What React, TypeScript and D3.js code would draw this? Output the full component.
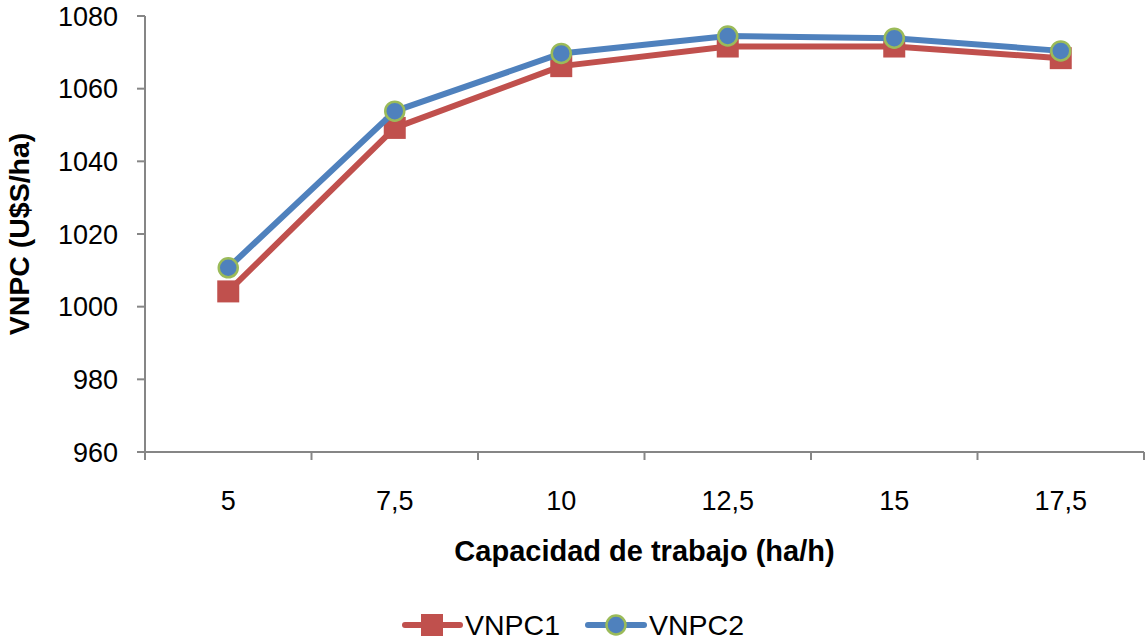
import React from 'react';
import * as d3 from 'd3';

const categories = ['5', '7,5', '10', '12,5', '15', '17,5'];
const vnpc1 = [1004.2, 1049.2, 1066.2, 1071.6, 1071.6, 1068.4];
const vnpc2 = [1010.7, 1053.8, 1069.7, 1074.5, 1073.9, 1070.4];
const yTicks = [960, 980, 1000, 1020, 1040, 1060, 1080];

const W = 1148;
const H = 640;
const FONT = '"Liberation Sans", Arial, sans-serif';
const RED = '#C0504D';
const BLUE = '#4F81BD';
const GREEN = '#9BBB59';
const AXIS = '#868686';

const App = () => {
  const x = d3.scaleBand<string>().domain(categories).range([145, 1144]).padding(0);
  const y = d3.scaleLinear().domain([960, 1080]).range([452, 16]);
  const cx = (c: string) => (x(c) ?? 0) + x.bandwidth() / 2;

  const line = d3
    .line<[string, number]>()
    .x((d) => cx(d[0]))
    .y((d) => y(d[1]));

  const pts1 = categories.map((c, i) => [c, vnpc1[i]] as [string, number]);
  const pts2 = categories.map((c, i) => [c, vnpc2[i]] as [string, number]);

  const [x0, x1] = x.range();
  const edges = [...categories.map((c) => x(c) ?? 0), x1];

  return (
    <svg width={W} height={H} style={{ position: 'absolute', left: 0, top: 0, background: '#fff' }} fontFamily={FONT}>
      {/* y axis */}
      <line x1={x0} x2={x0} y1={y(1080)} y2={y(960)} stroke={AXIS} strokeWidth={2} />
      {yTicks.map((t) => (
        <g key={t}>
          <line x1={x0 - 8} x2={x0} y1={y(t)} y2={y(t)} stroke={AXIS} strokeWidth={2} />
          <text x={118} y={y(t)} dy="0.36em" textAnchor="end" fontSize={27} fill="#000">
            {t}
          </text>
        </g>
      ))}
      {/* x axis */}
      <line x1={x0 - 8} x2={x1} y1={y(960)} y2={y(960)} stroke={AXIS} strokeWidth={2} />
      {edges.map((e, i) => (
        <line key={i} x1={e} x2={e} y1={y(960)} y2={y(960) + 8} stroke={AXIS} strokeWidth={2} />
      ))}
      {categories.map((c) => (
        <text key={c} x={cx(c)} y={510} textAnchor="middle" fontSize={27} fill="#000">
          {c}
        </text>
      ))}
      <text x={(x0 + x1) / 2} y={561} textAnchor="middle" fontSize={29} fontWeight="bold" fill="#000">
        Capacidad de trabajo (ha/h)
      </text>
      <text
        transform={`translate(29, ${(y(960) + y(1080)) / 2}) rotate(-90)`}
        textAnchor="middle"
        fontSize={28.5}
        fontWeight="bold"
        fill="#000"
      >
        VNPC (U$S/ha)
      </text>

      {/* series */}
      <path d={line(pts1) ?? ''} fill="none" stroke={RED} strokeWidth={6} strokeLinejoin="round" />
      {pts1.map((d) => (
        <rect key={d[0]} x={cx(d[0]) - 11} y={y(d[1]) - 11} width={22} height={22} fill={RED} />
      ))}
      <path d={line(pts2) ?? ''} fill="none" stroke={BLUE} strokeWidth={6} strokeLinejoin="round" />
      {pts2.map((d) => (
        <circle key={d[0]} cx={cx(d[0])} cy={y(d[1])} r={9.5} fill={BLUE} stroke={GREEN} strokeWidth={2.5} />
      ))}

      {/* legend */}
      <g>
        <line x1={405} x2={460} y1={625} y2={625} stroke={RED} strokeWidth={6} strokeLinecap="round" />
        <rect x={421} y={614} width={22} height={22} fill={RED} />
        <text x={465} y={625} dy="0.35em" fontSize={28.5} fill="#000">VNPC1</text>
        <line x1={588} x2={644} y1={625} y2={625} stroke={BLUE} strokeWidth={6} strokeLinecap="round" />
        <circle cx={616} cy={625} r={9.5} fill={BLUE} stroke={GREEN} strokeWidth={2.5} />
        <text x={649} y={625} dy="0.35em" fontSize={28.5} fill="#000">VNPC2</text>
      </g>
    </svg>
  );
};

export default App;
